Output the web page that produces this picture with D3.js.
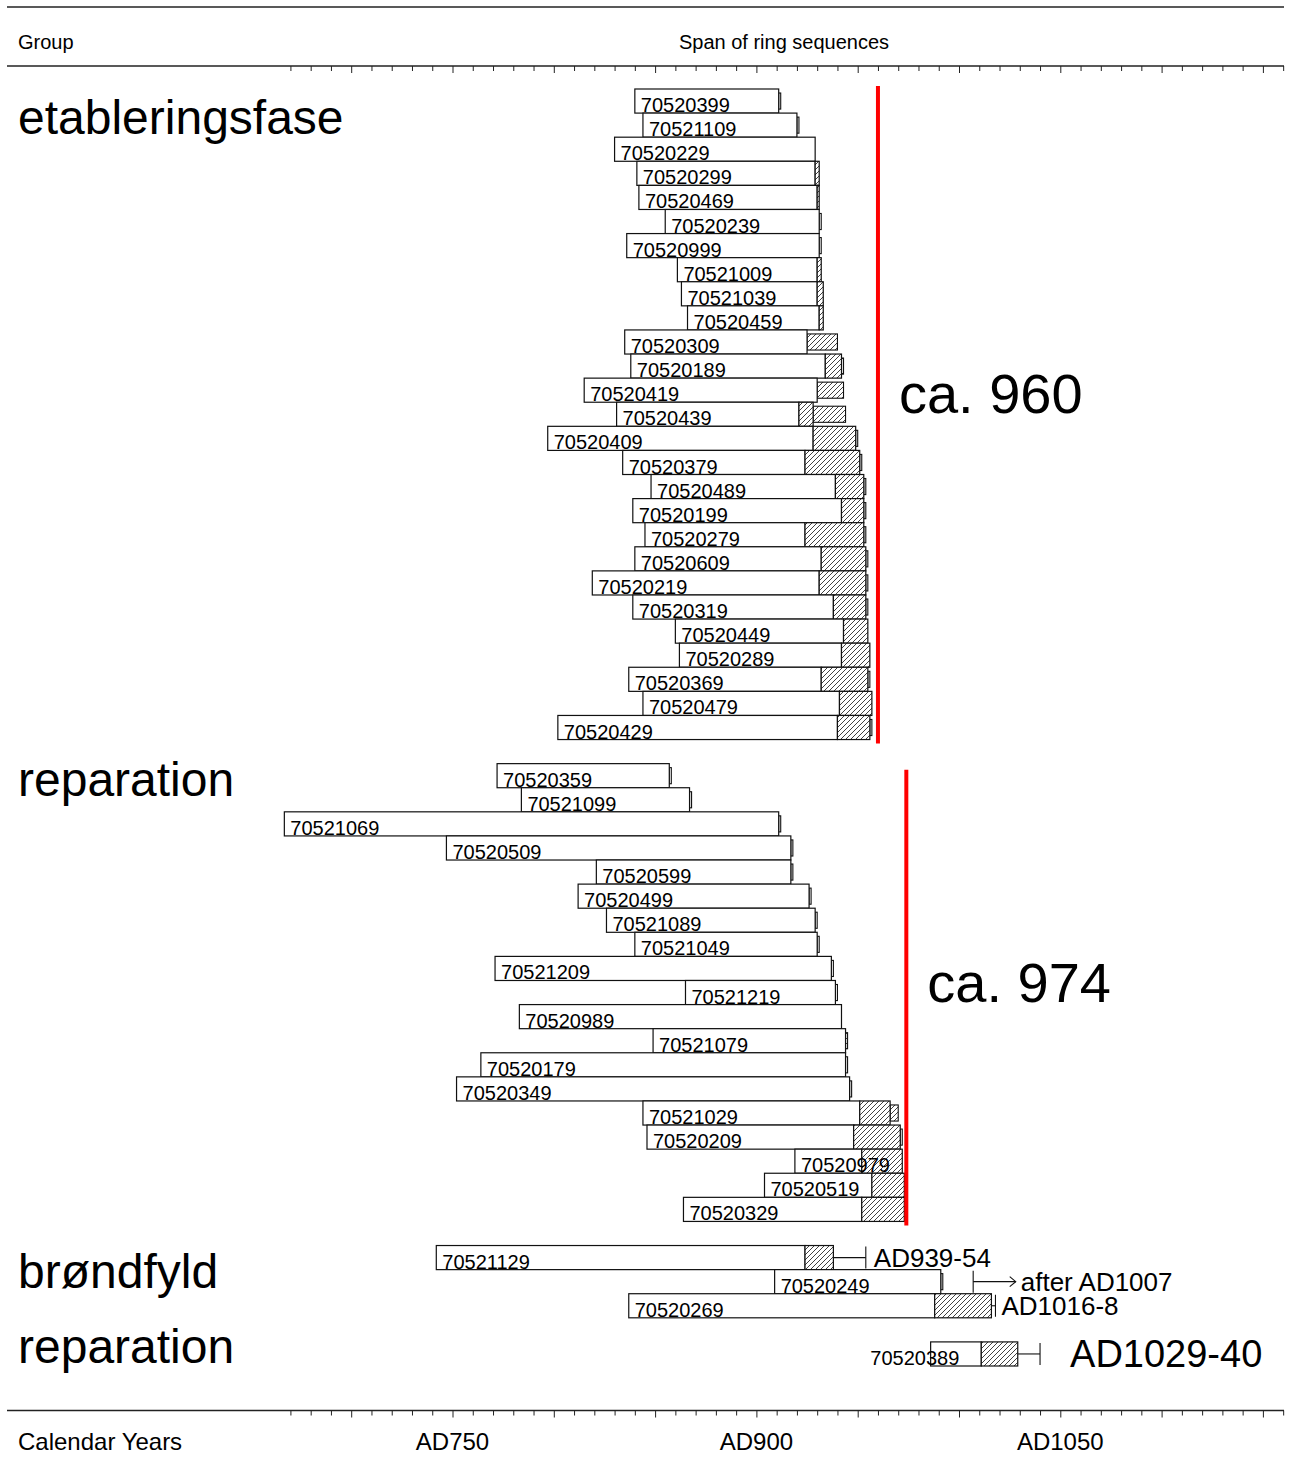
<!DOCTYPE html>
<html>
<head>
<meta charset="utf-8">
<script src="https://cdn.jsdelivr.net/npm/d3@7"></script>
<style>
  body { margin: 0; background: #fff; }
  text { font-family: "Liberation Sans", Arial, sans-serif; }
</style>
</head>
<body>
<div id="svgzone"></div>
<script>
// groups, in drawing order
let groupNames = ["etableringsfase", "reparation", "brøndfyld", "reparation"];
let groupSizes = [27, 19, 3, 1];

// one entry per sample (all groups after each other)
let sampleIds = [
    "70520399", "70521109", "70520229", "70520299", "70520469", "70520239", "70520999",
    "70521009", "70521039", "70520459", "70520309", "70520189", "70520419", "70520439",
    "70520409", "70520379", "70520489", "70520199", "70520279", "70520609", "70520219",
    "70520319", "70520449", "70520289", "70520369", "70520479", "70520429",
    "70520359", "70521099", "70521069", "70520509", "70520599", "70520499", "70521089",
    "70521049", "70521209", "70521219", "70520989", "70521079", "70520179", "70520349",
    "70521029", "70520209", "70520979", "70520519", "70520329",
    "70521129", "70520249", "70520269",
    "70520389"
];
// first ring
let startYears = [
    840, 844, 830, 841, 842, 855, 836, 861, 863, 866, 835, 838, 815, 831,
    797, 834, 848, 839, 845, 840, 819, 839, 860, 862, 837, 844, 802,
    772, 784, 667, 747, 821, 812, 826, 840, 771, 865, 783, 849, 764, 752,
    844, 846, 919, 904, 864,
    742, 909, 837,
    986
];
// last heartwood ring (end of the white part)
let heartEndYears = [
    911, 920, 929, 929, 930, 931, 931, 930, 930, 931, 925, 934, 930, 921,
    928, 924, 939, 942, 924, 932, 931, 938, 943, 942, 932, 941, 940,
    857, 867, 911, 917, 917, 926, 929, 930, 937, 939, 942, 944, 944, 946,
    951, 948, 952, 957, 952,
    924, 991, 988,
    1011
];
// last measured sapwood ring (end of the full hatched part)
let sapEndYears = [
    911, 920, 929, 931, 931, 931, 931, 932, 933, 933, 925, 942, 930, 928,
    949, 951, 953, 953, 953, 954, 954, 954, 955, 956, 955, 957, 956,
    857, 867, 911, 917, 917, 926, 929, 930, 937, 939, 942, 944, 944, 946,
    966, 971, 972, 973, 973,
    938, 991, 1016,
    1029
];
// unmeasured rings (half-height box), null = none
let tailEndYears = [
    912, 921, null, null, null, 932, 932, null, null, null, 940, 943, 943, 944,
    950, 952, 954, 954, 954, 955, 955, 955, null, null, 956, null, 957,
    858, 868, 912, 918, 918, 927, 930, 931, 938, 940, null, 945, 945, 947,
    970, 972, null, null, null,
    null, 992, null,
    null
];
let tailHatched = [
    false, false, false, false, false, false, false, false, false, false, true, false, true, true,
    false, false, false, false, false, false, false, false, false, false, false, false, false,
    false, false, false, false, false, false, false, false, false, false, false, true, false, false,
    true, false, false, false, false,
    false, false, false,
    false
];

// felling estimates per group
let fellingGroups = [0, 1];
let fellingYears = [960, 974];
let fellingLabels = ["ca. 960", "ca. 974"];

// felling intervals for single samples
let noteSamples = ["70521129", "70520249", "70520269", "70520389"];
let noteFrom = [938, 1007, 1016, 1029];
let noteTo = [954, 1028, 1018, 1040];
let noteKinds = ["range", "after", "range", "range"];
let noteLabels = ["AD939-54", "after AD1007", "AD1016-8", "AD1029-40"];

// axis
let tickYears = d3.range(670, 1161, 10);
let labelYears = [750, 900, 1050];

// layout
let W = 1292, H = 1461;
let groupLabelDy = [45, 32, 42, 21];
let fellingTopDy = [-3, 6];
let fellingLabelDy = [-2, 4];
let noteFontSizes = [26, 26, 26, 38];
let noteLabelDx = [8, 5, 6, 30];

let svg = d3.select("#svgzone")
    .append("svg")
    .attr("width", W)
    .attr("height", H);

// hatch pattern for sapwood
let pat = svg.append("defs").append("pattern")
    .attr("id", "hatch")
    .attr("patternUnits", "userSpaceOnUse")
    .attr("width", 5)
    .attr("height", 5);
pat.append("rect").attr("width", 5).attr("height", 5).attr("fill", "#fff");
pat.append("path")
    .attr("d", "M-1,1 l2,-2 M0,5 l5,-5 M4,6 l2,-2")
    .attr("stroke", "#111")
    .attr("stroke-width", 0.8);

// row index for each sample, one empty row after each group
let rowOf = [], groupFirstRow = [], groupLastRow = [];
let r = 0;
groupSizes.forEach(function (n, g) {
    groupFirstRow.push(r);
    for (let i = 0; i < n; i++) rowOf.push(r++);
    groupLastRow.push(r - 1);
    r++;
});
let nRows = r - 1;

let x = d3.scaleLinear()
    .domain([900, 1050])
    .range([756.4, 1060.3]);

let y = d3.scaleBand()
    .domain(d3.range(nRows))
    .range([89, 1366])
    .padding(0);
let bh = y.bandwidth();

let samples = sampleIds.map(function (id, i) {
    return { id: id, row: rowOf[i], start: startYears[i], heart: heartEndYears[i],
        sap: sapEndYears[i], tail: tailEndYears[i], tailHatch: tailHatched[i] };
});

// frame lines
let lineCol = "#222";
svg.append("line").attr("x1", 7).attr("x2", 1284).attr("y1", 7).attr("y2", 7)
    .attr("stroke", lineCol).attr("stroke-width", 1.5);
svg.append("line").attr("x1", 7).attr("x2", 1284).attr("y1", 66).attr("y2", 66)
    .attr("stroke", lineCol).attr("stroke-width", 1.5);
svg.append("line").attr("x1", 7).attr("x2", 1284).attr("y1", 1410.5).attr("y2", 1410.5)
    .attr("stroke", lineCol).attr("stroke-width", 1.5);

// tick marks on both axes
function addTicks(yPos) {
    let ax = svg.append("g")
        .attr("transform", "translate(0," + yPos + ")")
        .call(d3.axisBottom(x).tickValues(tickYears).tickSize(5).tickFormat(""));
    ax.select(".domain").remove();
    ax.selectAll(".tick line")
        .attr("stroke", lineCol)
        .attr("y2", function (d) { return d % 50 === 0 ? 7 : 5; });
}
addTicks(66);
addTicks(1410.5);

svg.selectAll("yearLabels")
    .data(labelYears)
    .enter()
    .append("text")
    .attr("x", function (d) { return x(d); })
    .attr("y", 1450)
    .attr("text-anchor", "middle")
    .style("font-size", "24px")
    .text(function (d) { return "AD" + d; });

svg.append("text").attr("x", 18).attr("y", 1450).style("font-size", "24px").text("Calendar Years");
svg.append("text").attr("x", 18).attr("y", 49).style("font-size", "20px").text("Group");
svg.append("text").attr("x", 784).attr("y", 49).attr("text-anchor", "middle")
    .style("font-size", "20px").text("Span of ring sequences");

// group names
svg.selectAll("groupLabels")
    .data(groupNames)
    .enter()
    .append("text")
    .attr("x", 18)
    .attr("y", function (d, g) { return y(groupFirstRow[g]) + groupLabelDy[g]; })
    .style("font-size", "48px")
    .text(function (d) { return d; });

let bars = svg.append("g").selectAll("g")
    .data(samples)
    .enter()
    .append("g");

// unmeasured rings, half height
bars.filter(function (d) { return d.tail !== null; })
    .append("rect")
    .attr("x", function (d) { return x(d.sap); })
    .attr("y", function (d) { return y(d.row) + 4; })
    .attr("width", function (d) { return x(d.tail) - x(d.sap); })
    .attr("height", bh - 8)
    .attr("fill", function (d) { return d.tailHatch ? "url(#hatch)" : "#fff"; })
    .attr("stroke", "#111")
    .attr("stroke-width", 1.1);

// heartwood
bars.append("rect")
    .attr("x", function (d) { return x(d.start); })
    .attr("y", function (d) { return y(d.row); })
    .attr("width", function (d) { return x(d.heart) - x(d.start); })
    .attr("height", bh)
    .attr("fill", "#fff")
    .attr("stroke", "#111")
    .attr("stroke-width", 1.2);

// sapwood
bars.filter(function (d) { return d.sap > d.heart; })
    .append("rect")
    .attr("x", function (d) { return x(d.heart); })
    .attr("y", function (d) { return y(d.row); })
    .attr("width", function (d) { return x(d.sap) - x(d.heart); })
    .attr("height", bh)
    .attr("fill", "url(#hatch)")
    .attr("stroke", "#111")
    .attr("stroke-width", 1.2);

// sample numbers (very short bars get the number in front)
function isShort(d) { return x(d.sap) - x(d.start) < 95; }
bars.append("text")
    .attr("x", function (d) { return isShort(d) ? x(d.heart) - 22 : x(d.start) + 6; })
    .attr("y", function (d) { return y(d.row) + bh - 1; })
    .attr("text-anchor", function (d) { return isShort(d) ? "end" : "start"; })
    .style("font-size", "20px")
    .text(function (d) { return d.id; });

// felling date lines
fellingYears.forEach(function (yr, i) {
    let g = fellingGroups[i];
    let top = y(groupFirstRow[g]) + fellingTopDy[i];
    let bot = y(groupLastRow[g]) + bh + 4;
    svg.append("line")
        .attr("x1", x(yr)).attr("x2", x(yr))
        .attr("y1", top).attr("y2", bot)
        .attr("stroke", "#ff0000")
        .attr("stroke-width", 4);
    svg.append("text")
        .attr("x", x(yr) + 21)
        .attr("y", (top + bot) / 2 + fellingLabelDy[i])
        .style("font-size", "56px")
        .text(fellingLabels[i]);
});

// single sample intervals
noteSamples.forEach(function (id, i) {
    let d = samples[sampleIds.indexOf(id)];
    let cy = y(d.row) + bh / 2;
    let x0 = x(noteFrom[i]), x1 = x(noteTo[i]);
    let tickX = noteKinds[i] === "after" ? x0 : x1;
    svg.append("line").attr("x1", x0).attr("x2", x1).attr("y1", cy).attr("y2", cy)
        .attr("stroke", "#111").attr("stroke-width", 1.1);
    svg.append("line").attr("x1", tickX).attr("x2", tickX).attr("y1", cy - 11).attr("y2", cy + 11)
        .attr("stroke", "#111").attr("stroke-width", 1.1);
    if (noteKinds[i] === "after") {
        svg.append("path")
            .attr("d", "M" + (x1 - 6) + "," + (cy - 5) + " L" + x1 + "," + cy + " L" + (x1 - 6) + "," + (cy + 5))
            .attr("fill", "none").attr("stroke", "#111").attr("stroke-width", 1.1);
    }
    svg.append("text")
        .attr("x", x1 + noteLabelDx[i])
        .attr("y", cy + noteFontSizes[i] * 0.35)
        .style("font-size", noteFontSizes[i] + "px")
        .text(noteLabels[i]);
});
</script>
</body>
</html>
